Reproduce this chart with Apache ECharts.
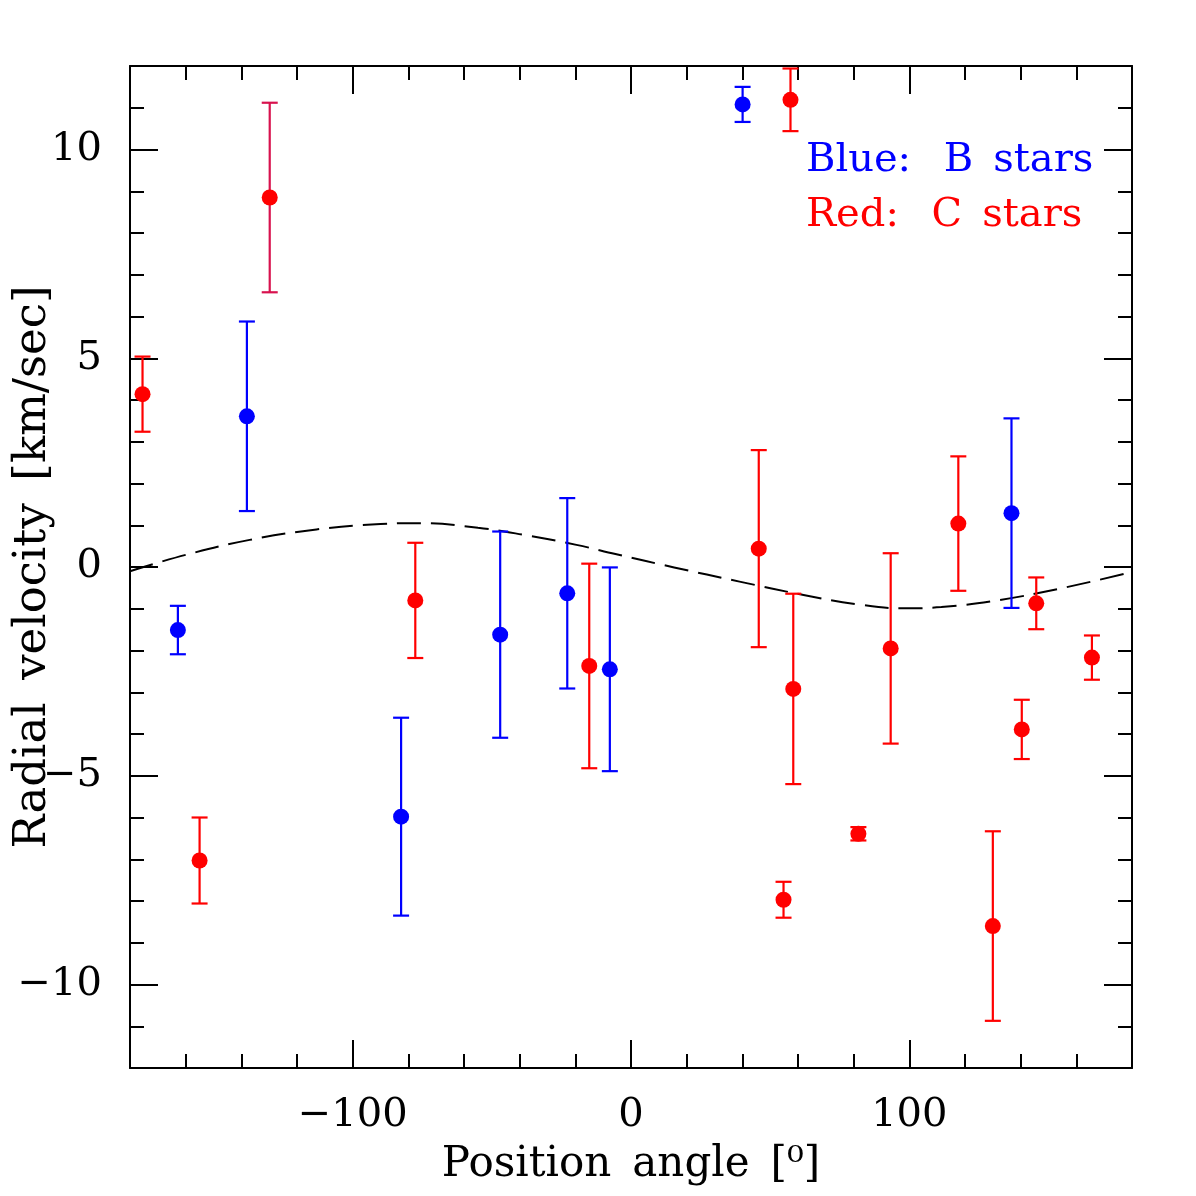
<!DOCTYPE html>
<html>
<head>
<meta charset="utf-8">
<script src="https://cdn.jsdelivr.net/npm/echarts@6/dist/echarts.min.js"></script>
<style type="text/css">
html,body{margin:0;padding:0;background:#fff;}
#chart{width:1196px;height:1196px;}
</style>
</head>
<body>
<div id="chart"></div>
<script type="text/javascript">
// blue: B stars
var blueX = [-162.8, -138.0, -82.6, -47.0, -22.9, -7.6, 40.1, 136.7];
var blueY = [-1.51, 3.61, -5.98, -1.62, -0.63, -2.45, 11.08, 1.29];
var blueErr = [0.58, 2.27, 2.37, 2.47, 2.28, 2.44, 0.42, 2.27];

// red: C stars
var redX = [-175.5, -155.0, -129.8, -77.5, -15.0, 45.9, 54.8, 57.3, 58.3, 81.7, 93.3, 117.6, 130.0, 140.4, 145.6, 165.6];
var redY = [4.14, -7.03, 8.85, -0.80, -2.37, 0.44, -7.97, 11.19, -2.92, -6.39, -1.95, 1.04, -8.60, -3.89, -0.87, -2.17];
var redErr = [0.90, 1.03, 2.27, 1.38, 2.45, 2.36, 0.43, 0.75, 2.28, 0.16, 2.28, 1.61, 2.27, 0.71, 0.62, 0.53];

// dashed model curve
var curveX = [-180, -160, -137, -113, -90, -76, -55, -38.5, -19.6, -5.6, 15.5, 39, 62, 81, 97, 111.5, 132.5, 156, 180];
var curveY = [-0.10, 0.29, 0.65, 0.90, 1.03, 1.05, 0.94, 0.77, 0.53, 0.31, -0.01, -0.35, -0.67, -0.89, -0.99, -0.96, -0.79, -0.49, -0.12];

// ticks
var xMajor = [-100, 0, 100];
var xMinor = [-160, -140, -120, -80, -60, -40, -20, 20, 40, 60, 80, 120, 140, 160];
var yMajor = [-10, -5, 0, 5, 10];
var yMinor = [-11, -9, -8, -7, -6, -4, -3, -2, -1, 1, 2, 3, 4, 6, 7, 8, 9, 11];

var FONT = 'DejaVu Serif';
var mixedBar = 2; // red bar at -130 is drawn in a darker crimson

function pts(xs, ys, es) {
    var out = [];
    for (var i = 0; i < xs.length; i++) out.push(es ? [xs[i], ys[i], es[i]] : [xs[i], ys[i]]);
    return out;
}

function errBars(color, special) {
    return function (params, api) {
        var x = api.value(0), y = api.value(1), e = api.value(2);
        var top = api.coord([x, y + e]);
        var bot = api.coord([x, y - e]);
        var c = (special && params.dataIndex === mixedBar) ? '#d8124e' : color;
        var st = {stroke: c, lineWidth: 2.2};
        return {
            type: 'group',
            children: [
                {type: 'line', shape: {x1: top[0], y1: top[1], x2: bot[0], y2: bot[1]}, style: st},
                {type: 'line', shape: {x1: top[0] - 8, y1: top[1], x2: top[0] + 8, y2: top[1]}, style: st},
                {type: 'line', shape: {x1: bot[0] - 8, y1: bot[1], x2: bot[0] + 8, y2: bot[1]}, style: st}
            ]
        };
    };
}

function minus(v) { return String(v).replace('-', '\u2212'); }

function xAx(pos, ticks, len, withLine, withLabel) {
    var a = {
        type: 'value', position: pos, min: -180, max: 180,
        splitLine: {show: false},
        axisLine: {show: withLine, onZero: false, lineStyle: {color: '#000', width: 2}},
        axisTick: {show: true, inside: true, length: len, customValues: ticks, lineStyle: {color: '#000', width: 2}},
        axisLabel: {show: false}
    };
    if (withLabel) {
        a.axisLabel = {show: true, customValues: xMajor, margin: 28, color: '#000', fontFamily: FONT, fontSize: 40, formatter: minus};
        a.name = 'Position\u2002angle\u2002[\u2070]';
        a.nameLocation = 'middle';
        a.nameGap = 76;
        a.nameMoveOverlap = false;
        a.nameTextStyle = {color: '#000', fontFamily: FONT, fontSize: 42};
    }
    return a;
}

function yAx(pos, ticks, len, withLine, withLabel) {
    var a = {
        type: 'value', position: pos, min: -12, max: 12,
        splitLine: {show: false},
        axisLine: {show: withLine, onZero: false, lineStyle: {color: '#000', width: 2}},
        axisTick: {show: true, inside: true, length: len, customValues: ticks, lineStyle: {color: '#000', width: 2}},
        axisLabel: {show: false}
    };
    if (withLabel) {
        a.axisLabel = {show: true, customValues: yMajor, margin: 28, color: '#000', fontFamily: FONT, fontSize: 40, formatter: minus};
        a.name = 'Radial\u2002velocity\u2002[km/sec]';
        a.nameLocation = 'middle';
        a.nameGap = 74;
        a.nameMoveOverlap = false;
        a.nameTextStyle = {color: '#000', fontFamily: FONT, fontSize: 45};
    }
    return a;
}

var chart = echarts.init(document.getElementById('chart'));
var option = {
    backgroundColor: '#fff',
    animation: false,
    grid: {left: 130, right: 64, top: 66, bottom: 128, containLabel: false, outerBoundsMode: 'none'},
    xAxis: [
        xAx('bottom', xMajor, 28, true, true),
        xAx('bottom', xMinor, 14, false, false),
        xAx('top', xMajor, 28, true, false),
        xAx('top', xMinor, 14, false, false)
    ],
    yAxis: [
        yAx('left', yMajor, 28, true, true),
        yAx('left', yMinor, 14, false, false),
        yAx('right', yMajor, 28, true, false),
        yAx('right', yMinor, 14, false, false)
    ],
    graphic: [
        {type: 'text', left: 806, top: 141, style: {text: 'Blue:\u2002 B\u2002stars', fill: '#0000ff', font: '40px "DejaVu Serif"'}},
        {type: 'text', left: 806, top: 196, style: {text: 'Red:\u2002 C\u2002stars', fill: '#ff0000', font: '40px "DejaVu Serif"'}}
    ],
    series: [
        {
            type: 'line', data: pts(curveX, curveY), smooth: 0.4, symbol: 'none',
            lineStyle: {color: '#000', width: 2, type: [24, 10]}, z: 1
        },
        {type: 'custom', renderItem: errBars('#0000ff', false), data: pts(blueX, blueY, blueErr), z: 2},
        {type: 'custom', renderItem: errBars('#ff0000', true), data: pts(redX, redY, redErr), z: 3},
        {type: 'scatter', data: pts(blueX, blueY), symbolSize: 16, itemStyle: {color: '#0000ff', opacity: 1}, z: 4},
        {type: 'scatter', data: pts(redX, redY), symbolSize: 16, itemStyle: {color: '#ff0000', opacity: 1}, z: 5}
    ]
};
chart.setOption(option);
</script>
</body>
</html>
